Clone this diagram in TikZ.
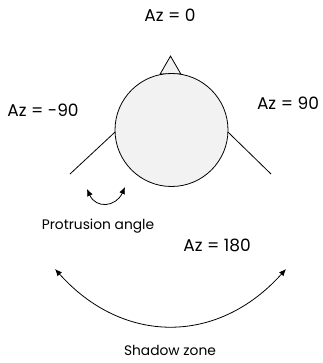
\documentclass[tikz,border=0pt]{standalone}
\usepackage{fontspec}
\setmainfont{Poppins}
\usetikzlibrary{arrows.meta,shapes.geometric}
\definecolor{headfill}{HTML}{F2F2F2}
\begin{document}
\begin{tikzpicture}[x=1pt,y=-1pt,
  lbl/.style={font=\fontsize{17}{20}\selectfont, inner sep=0pt},
  smalllbl/.style={font=\fontsize{13.8}{16}\selectfont, inner sep=0pt},
  edge/.style={line width=0.8pt},
  dbl/.style={line width=0.8pt, {Latex[length=7pt,width=6pt]}-{Latex[length=7pt,width=6pt]}}]
\useasboundingbox (0,0) rectangle (322,363);
\node[draw, fill=headfill, isosceles triangle, isosceles triangle apex angle=60, shape border rotate=90, minimum height=18pt, inner sep=0pt, anchor=south, edge] (nose) at (170.5,74.5) {};
\node[circle, draw, fill=headfill, minimum size=113pt, inner sep=0pt, edge] (head) at (171.5,130) {};
\coordinate (lend) at (70,174);
\coordinate (rend) at (271,174);
\draw[edge] (head.180) ++(0.5,2) -- (lend);
\draw[edge] (head.0) ++(-0.5,2) -- (rend);
\node[lbl] (az0) at (170,15) {Az = 0};
\node[lbl] (azm90) at (43,110) {Az = -90};
\node[lbl] (az90) at (288,103) {Az = 90};
\node[lbl] (az180) at (217,245) {Az = 180};
\node[smalllbl] (prot) at (98,226) {Protrusion angle};
\node[smalllbl] (shadow) at (170,350) {Shadow zone};
\coordinate (pa1) at (87,189);
\coordinate (pa2) at (125,187);
\draw[dbl] (pa1) .. controls +(9,20) and +(-9,20) .. (pa2);
\coordinate (sz1) at (55,269);
\coordinate (sz2) at (286,269);
\draw[dbl] (sz1) .. controls +(68,76) and +(-68,76) .. (sz2);
\end{tikzpicture}
\end{document}
